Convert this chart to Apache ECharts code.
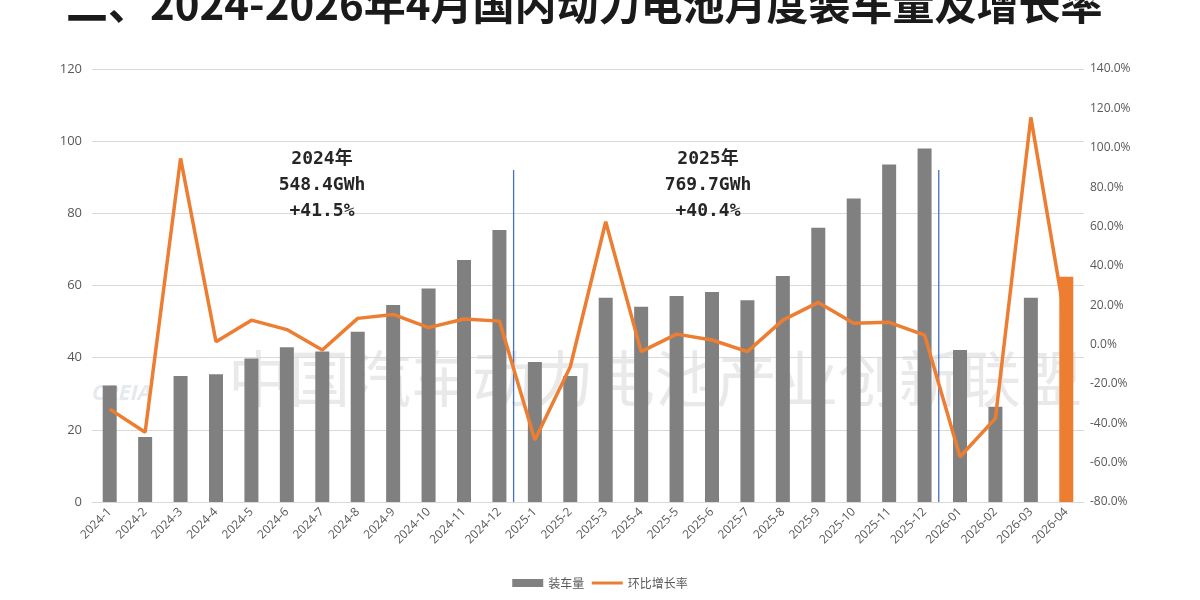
<!DOCTYPE html>
<html lang="zh">
<head>
    <meta charset="UTF-8">
    <title>动力电池月度装车量及增长率</title>
    <script src="https://cdn.jsdelivr.net/npm/echarts@6/dist/echarts.min.js"></script>
    <style>
        html, body { margin: 0; padding: 0; background: #ffffff; }
    </style>
</head>
<body>
<div id="main" style="width:1200px;height:600px;"></div>
<script>
// 月份
var months = ['2024-1','2024-2','2024-3','2024-4','2024-5','2024-6','2024-7','2024-8','2024-9','2024-10','2024-11','2024-12',
              '2025-1','2025-2','2025-3','2025-4','2025-5','2025-6','2025-7','2025-8','2025-9','2025-10','2025-11','2025-12',
              '2026-01','2026-02','2026-03','2026-04'];
// 装车量 GWh
var volume = [32.3, 18.0, 34.9, 35.4, 39.8, 42.9, 41.7, 47.2, 54.6, 59.2, 67.1, 75.4,
              38.8, 34.9, 56.6, 54.1, 57.1, 58.2, 55.9, 62.6, 76.0, 84.1, 93.5, 98.0,
              42.1, 26.4, 56.6, 62.4];
// 环比增长率 %
var momRate = [-32.8, -44.6, 94.6, 1.4, 12.4, 7.6, -2.8, 13.3, 15.3, 8.6, 13.0, 11.9,
               -48.5, -11.3, 62.4, -3.6, 5.3, 2.3, -3.6, 12.4, 21.4, 10.8, 11.3, 4.8,
               -57.0, -37.5, 115.4, 9.5];
// 年度分隔线 (类目位置, 高度)
var dividers = [[11.4, 92], [23.4, 92]];
var yearNotes = [
    {text: '2024年\n548.4GWh\n+41.5%', x: 322},
    {text: '2025年\n769.7GWh\n+40.4%', x: 708}
];

var chart = echarts.init(document.getElementById('main'));

var barData = [];
for (var i = 0; i < volume.length; i++) {
    if (i == volume.length - 1) {
        barData.push({value: volume[i], itemStyle: {color: '#ed7d31'}});
    } else {
        barData.push(volume[i]);
    }
}

var dividerSeries = [];
for (var j = 0; j < dividers.length; j++) {
    dividerSeries.push({
        name: 'div' + j,
        type: 'line',
        xAxisIndex: 1,
        yAxisIndex: 0,
        symbol: 'none',
        silent: true,
        z: 1,
        lineStyle: {color: '#4472c4', width: 1.3},
        data: [[dividers[j][0], 0], [dividers[j][0], dividers[j][1]]]
    });
}

var graphics = [
    {
        type: 'text', left: 66, top: -17, z: 10,
        style: {
            text: '二、2024-2026年4月国内动力电池月度装车量及增长率',
            font: 'bold 42px "Noto Sans CJK SC"',
            fill: '#1a1a1a',
            shadowColor: 'rgba(0,0,0,0.45)', shadowBlur: 3, shadowOffsetX: 2, shadowOffsetY: 2
        }
    },
    {   // 水印
        type: 'text', left: 228, top: 348, z: -1,
        style: {
            text: '中国汽车动力电池产业创新联盟',
            font: '61px "Noto Sans CJK SC"',
            fill: '#e9e9e9'
        }
    },
    {
        type: 'text', left: 92, top: 383, z: -1,
        style: {
            text: 'CREIA',
            font: 'italic bold 22px "Open Sans"',
            fill: '#e6e9ee'
        }
    }
];
for (var k = 0; k < yearNotes.length; k++) {
    graphics.push({
        type: 'text', x: yearNotes[k].x, y: 146, z: 10,
        style: {
            text: yearNotes[k].text,
            font: 'bold 18px "DejaVu Sans Mono", "Noto Sans CJK SC"',
            fill: '#262626',
            align: 'center',
            lineHeight: 26
        }
    });
}

chart.setOption({
    backgroundColor: '#ffffff',
    animation: false,
    graphic: graphics,
    legend: {
        bottom: 6,
        left: 'center',
        itemGap: 6,
        itemWidth: 31,
        itemHeight: 8,
        textStyle: {color: '#595959', fontSize: 12, fontFamily: 'Noto Sans CJK SC'},
        data: [
            {name: '装车量', icon: 'rect'},
            {name: '环比增长率', itemStyle: {opacity: 0}, lineStyle: {width: 3}}
        ]
    },
    grid: {
        left: 92,
        right: 116,
        top: 69,
        bottom: 98
    },
    xAxis: [
        {
            type: 'category',
            data: months,
            axisLine: {lineStyle: {color: '#d9d9d9'}},
            axisTick: {show: false},
            axisLabel: {
                color: '#595959',
                fontSize: 12,
                rotate: 45,
                interval: 0,
                margin: 8,
                fontFamily: 'Open Sans'
            }
        },
        {
            type: 'value',
            min: -0.5,
            max: 27.5,
            show: false
        }
    ],
    yAxis: [
        {
            type: 'value',
            min: 0,
            max: 120,
            interval: 20,
            axisLine: {show: false},
            axisTick: {show: false},
            axisLabel: {color: '#595959', fontSize: 13, margin: 10, fontFamily: 'Open Sans'},
            splitLine: {lineStyle: {color: '#d9d9d9', width: 1}}
        },
        {
            type: 'value',
            min: -80,
            max: 140,
            interval: 20,
            axisLine: {show: false},
            axisTick: {show: false},
            splitLine: {show: false},
            axisLabel: {
                color: '#595959',
                fontSize: 12,
                margin: 6,
                fontFamily: 'Open Sans',
                formatter: function (v) { return v.toFixed(1) + '%'; }
            }
        }
    ],
    series: [
        {
            name: '装车量',
            type: 'bar',
            barWidth: 14,
            itemStyle: {color: '#808080'},
            z: 2,
            data: barData
        },
        {
            name: '环比增长率',
            type: 'line',
            yAxisIndex: 1,
            symbol: 'none',
            z: 3,
            lineStyle: {color: '#ed7d31', width: 3.5},
            itemStyle: {color: '#ed7d31'},
            data: momRate
        }
    ].concat(dividerSeries)
});
</script>
</body>
</html>
